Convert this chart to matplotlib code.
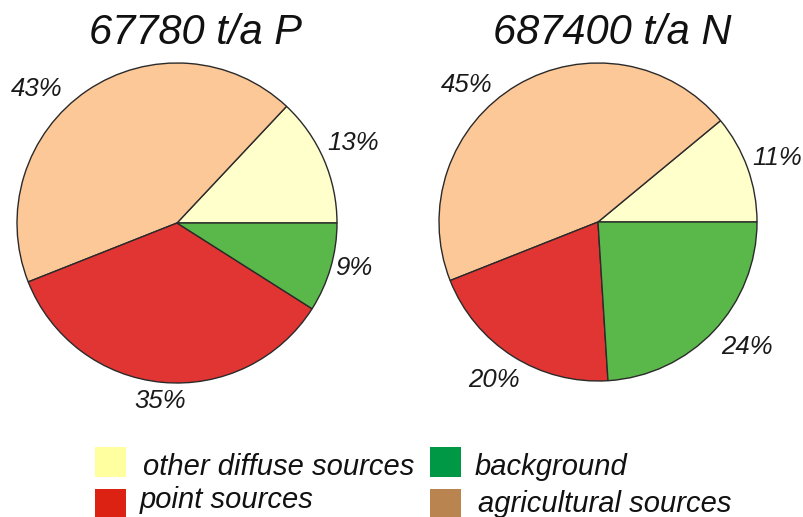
import matplotlib
matplotlib.use("Agg")
import matplotlib.pyplot as plt
from matplotlib.patches import Rectangle

categories = ["other diffuse sources", "agricultural sources", "point sources", "background"]
p_values = [13, 43, 35, 9]
n_values = [11, 45, 20, 24]
titles = ["67780 t/a P", "687400 t/a N"]
pie_colors = ["#ffffcc", "#fdc898", "#e03532", "#5ab84a"]
legend_colors = {"other diffuse sources": "#ffffa0", "background": "#009844",
                 "point sources": "#dc2212", "agricultural sources": "#ba8450"}

plt.rcParams['font.family'] = ['Liberation Sans', 'DejaVu Sans']

W, H = 804, 517
fig = plt.figure(figsize=(W / 100, H / 100), dpi=100)
ax = fig.add_axes([0, 0, 1, 1])

def Y(py):
    return H - py

# pies: label positions in order of values (other diffuse, agricultural, point, background)
pie_specs = [
    (p_values, (177, Y(223)), 160, (196, 33),
     [(353, 143), (37, 89), (160, 401), (354, 268)]),
    (n_values, (598, Y(222)), 159, (612, 33),
     [(777, 158), (467, 85), (494, 380), (747, 347)]),
]
for (vals, center, r, tpos, lpos), title in zip(pie_specs, titles):
    ax.pie(vals, colors=pie_colors, startangle=0, counterclock=True,
           center=center, radius=r, frame=True,
           wedgeprops=dict(edgecolor="#2a2a2a", linewidth=1.0))
    ax.text(tpos[0], Y(tpos[1]), title, fontsize=30, style='italic',
            ha='center', va='center', color='#111111')
    for v, (lx, ly) in zip(vals, lpos):
        ax.text(lx, Y(ly), f"{v}%", fontsize=18.5, style='italic',
                ha='center', va='center', color='#1a1a1a')

ax.set_xlim(0, W)
ax.set_ylim(0, H)
ax.set_aspect('equal')
ax.axis('off')

# legend: (name, square top-left, text start & baseline)
legend_items = [
    ("other diffuse sources", (95, 447), (143, 475)),
    ("point sources", (95, 489), (140, 508)),
    ("background", (430, 447), (475, 475)),
    ("agricultural sources", (430, 489), (478, 512)),
]
for name, (sx, sy), (tx, ty) in legend_items:
    ax.add_patch(Rectangle((sx, Y(sy + 30)), 31, 30,
                           facecolor=legend_colors[name], edgecolor='none'))
    ax.text(tx, Y(ty), name, fontsize=21, style='italic',
            ha='left', va='baseline', color='#111111')

fig.savefig("out.png", dpi=100)
